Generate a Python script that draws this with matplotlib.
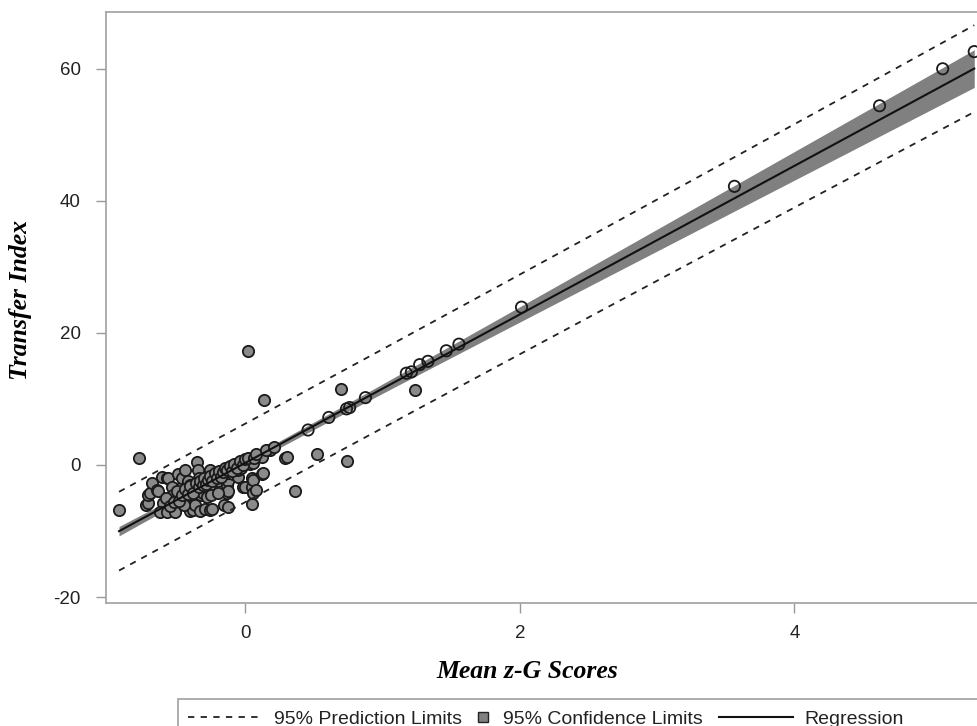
import numpy as np
import matplotlib
matplotlib.use("Agg")
import matplotlib.pyplot as plt
from matplotlib.lines import Line2D
from matplotlib.patches import Rectangle

plt.rcParams["font.family"] = ["Liberation Sans", "DejaVu Sans"]
plt.rcParams["axes.unicode_minus"] = False

# observations off the fitted line (filled markers)
x_filled = [-0.92, -0.775, -0.72, -0.707, -0.707, -0.695, -0.683, -0.646, -0.635,
            -0.61, -0.574, -0.56, -0.60, -0.62, -0.57, -0.51, -0.537, -0.525,
            -0.49, -0.477, -0.464, -0.464, -0.44, -0.43, -0.416, -0.40, -0.39,
            -0.38, -0.37, -0.355, -0.344, -0.336, -0.33, -0.32, -0.307, -0.295,
            -0.28, -0.258, -0.258, -0.258, -0.246, -0.25, -0.198, -0.154, -0.125,
            -0.137, -0.137, -0.137, -0.125, -0.125, -0.125, -0.089, -0.076, -0.057,
            -0.052, -0.028, -0.016, 0.0, 0.025, 0.033, 0.045, 0.045, 0.05, 0.057,
            0.057, 0.057, 0.08, 0.10, 0.118, 0.122, 0.13, 0.183, 0.287, 0.30,
            0.36, 0.525, 0.737, 0.70, 1.234, 0.023, 0.135,
            -0.40, -0.35, -0.20, -0.45,
            -0.58, -0.55, -0.52, -0.50, -0.48, -0.46, -0.44, -0.42, -0.40, -0.38,
            -0.36, -0.34, -0.33, -0.31, -0.30, -0.29, -0.27, -0.26, -0.24, -0.22,
            -0.21, -0.19, -0.18, -0.16, -0.15, -0.13, -0.11, -0.10, -0.08, -0.06,
            -0.04, -0.02, 0.0, 0.02, 0.06, 0.08, 0.15, 0.21]
y_filled = [-6.8, 1.0, -6.1, -5.8, -4.5, -4.3, -2.7, -3.8, -4.0,
            -1.8, -1.9, -2.0, -5.8, -7.1, -7.1, -7.1, -3.3, -4.5,
            -1.3, -4.8, -3.3, -2.0, -0.7, -4.8, -2.5, -7.0, -3.8,
            -6.8, -6.1, 0.5, -0.8, -2.0, -7.0, -4.5, -4.3, -6.6,
            -4.8, -3.0, -0.8, -6.8, -6.6, -4.5, -2.5, -6.1, -6.3,
            -1.5, -3.0, -4.3, -2.5, -4.0, -1.26, -1.3, -1.0, -1.8,
            -0.76, -0.5, -3.3, -3.3, 0.26, 0.15, -2.0, -3.3, -5.9, -2.3,
            0.35, -4.3, -3.8, 1.3, 1.26, -1.4, -1.26, 2.2, 1.0, 1.26,
            -3.9, 1.7, 0.65, 11.5, 11.4, 17.2, 9.9,
            -3.0, -3.5, -4.3, -6.0,
            -5.0, -6.2, -5.6, -4.0, -5.5, -4.6, -3.6, -4.4, -3.2, -4.2,
            -2.7, -3.4, -2.4, -3.0, -2.0, -2.9, -2.2, -1.6, -2.4, -1.2,
            -2.0, -0.9, -1.8, -1.1, -0.4, -0.7, -0.1, -0.9, 0.1, -0.4,
            0.6, 0.0, 0.9, 1.1, 1.0, 1.6, 2.3, 2.8]

# observations lying on the fitted line (open markers)
x_open = [0.457, 0.608, 0.737, 0.76, 0.875, 1.173, 1.21, 1.27, 1.33, 1.464,
          1.556, 2.012, 3.563, 4.62, 5.08, 5.31]
y_open = [5.3, 7.2, 8.5, 8.7, 10.2, 13.9, 14.1, 15.2, 15.7, 17.3,
          18.3, 23.9, 42.2, 54.4, 60.0, 62.6]

T_CRIT = 1.977  # two-sided 95% t quantile, ~140 df

x_all = np.array(x_filled + x_open)
y_all = np.array(y_filled + y_open)
n = len(x_all)
slope, intercept = np.polyfit(x_all, y_all, 1)
resid = y_all - (intercept + slope * x_all)
s = np.sqrt(np.sum(resid ** 2) / (n - 2))
x_mean = x_all.mean()
sxx = np.sum((x_all - x_mean) ** 2)

xs = np.linspace(x_all.min(), x_all.max(), 300)
fit = intercept + slope * xs
se_mean = s * np.sqrt(1.0 / n + (xs - x_mean) ** 2 / sxx)
se_pred = s * np.sqrt(1.0 + 1.0 / n + (xs - x_mean) ** 2 / sxx)

BAND = "#808080"
DASH = (0, (3.5, 3.5))

fig = plt.figure(figsize=(9.77, 7.26), dpi=100)
ax = fig.add_axes([106 / 977, 123 / 726, 871 / 977, 591 / 726])

ax.fill_between(xs, fit - T_CRIT * se_mean, fit + T_CRIT * se_mean,
                color=BAND, lw=0, zorder=1)
ax.scatter(x_filled, y_filled, s=66, c="#8a8a8a", edgecolors="#1a1a1a",
           linewidths=1.3, zorder=2)
ax.scatter(x_open, y_open, s=66, facecolors="none", edgecolors="#1a1a1a",
           linewidths=1.3, zorder=2)
ax.plot(xs, fit + T_CRIT * se_pred, color="#222222", lw=1.3, ls=DASH, zorder=3)
ax.plot(xs, fit - T_CRIT * se_pred, color="#222222", lw=1.3, ls=DASH, zorder=3)
ax.plot(xs, fit, color="#111111", lw=1.5, zorder=4)

ax.set_xlim(-1.015, 5.33)
ax.set_ylim(-20.9, 68.6)
ax.set_xticks([0, 2, 4])
ax.set_yticks([-20, 0, 20, 40, 60])
ax.tick_params(direction="out", length=7, width=1, color="#999999",
               labelsize=13.5, labelcolor="#222222")
ax.tick_params(axis="x", pad=9)
ax.tick_params(axis="y", pad=11)
for side in ("left", "top", "bottom"):
    ax.spines[side].set_color("#a0a0a0")
    ax.spines[side].set_linewidth(1.2)
ax.spines["right"].set_visible(False)

label_font = dict(family=["Liberation Serif", "DejaVu Serif"], weight="bold",
                  style="italic", size=18.5)
ax.set_xlabel("Mean z-G Scores", **label_font)
ax.xaxis.set_label_coords((527 - 106) / 871, -(672 - 603) / 591)
ax.xaxis.label.set_va("center")
ax.set_ylabel("Transfer Index", **label_font)
ax.yaxis.set_label_coords(-(106 - 21) / 871, (603 - 300) / 591)
ax.yaxis.label.set_va("center")

# legend strip along the bottom, drawn in figure pixels
W, H = 977, 726
leg_y = (H - 717) / H
fig.patches.append(Rectangle((178 / W, -0.01), (990 - 178) / W, (H - 699) / H + 0.01,
                             transform=fig.transFigure, fill=False,
                             edgecolor="#a0a0a0", lw=1.2))
fig.lines.append(Line2D([188 / W, 259 / W], [leg_y, leg_y], transform=fig.transFigure,
                        color="#222222", lw=1.3, ls=DASH))
fig.patches.append(Rectangle((478 / W, leg_y - 5 / H), 10 / W, 10 / H,
                             transform=fig.transFigure, facecolor=BAND,
                             edgecolor="#222222", lw=1))
fig.lines.append(Line2D([719 / W, 793 / W], [leg_y, leg_y], transform=fig.transFigure,
                        color="#111111", lw=1.5))
legend_labels = ["95% Prediction Limits", "95% Confidence Limits", "Regression"]
legend_x = [274, 503, 804]
for lx, text in zip(legend_x, legend_labels):
    fig.text(lx / W, leg_y, text, fontsize=14, color="#222222", va="center_baseline")

fig.savefig("out.png", dpi=100)
